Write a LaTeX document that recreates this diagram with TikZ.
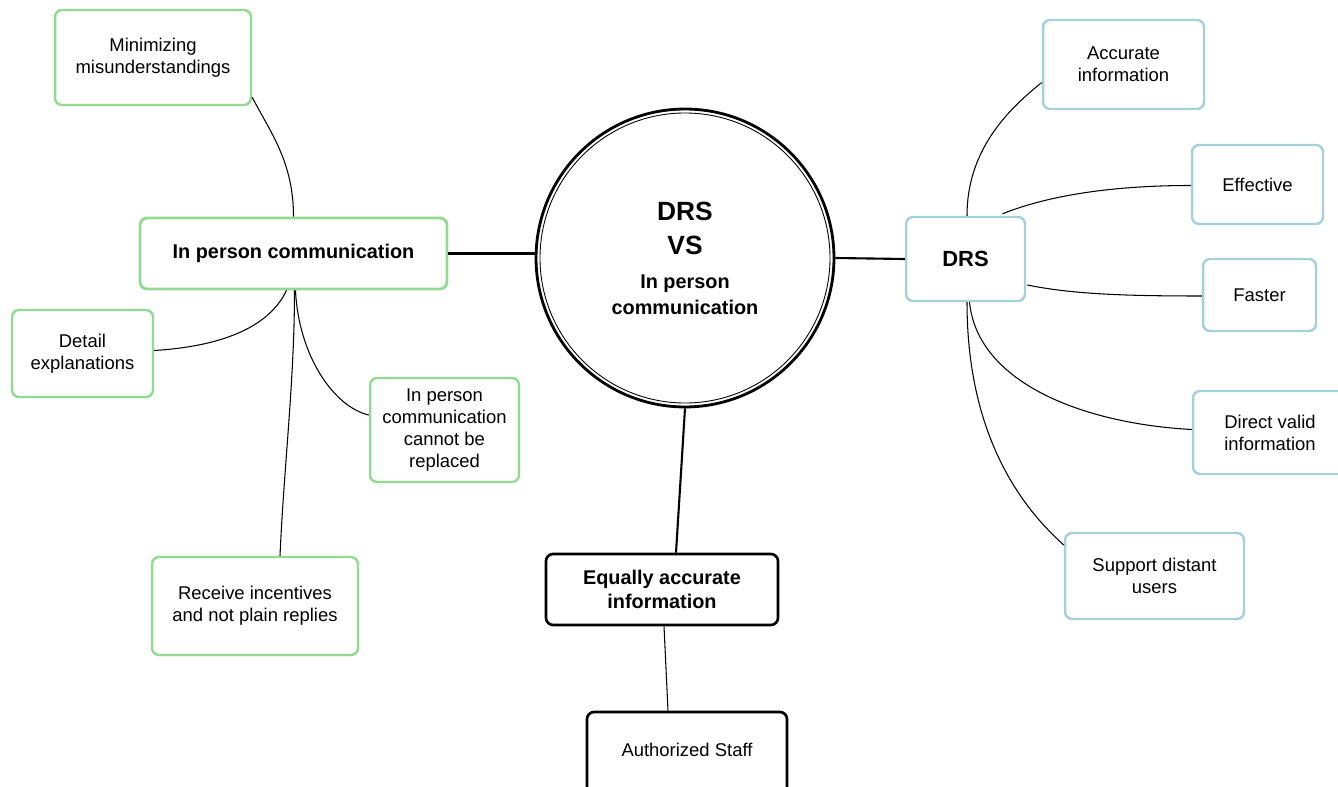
\documentclass[tikz,border=0pt]{standalone}
\usepackage{fontspec}
\setmainfont{Liberation Sans}
\usetikzlibrary{calc}
\definecolor{gb}{RGB}{146,218,146}
\definecolor{bb}{RGB}{165,208,218}
\begin{document}
\begin{tikzpicture}[x=0.02cm,y=-0.02cm,
  box/.style={rectangle, rounded corners=4pt, align=center, inner sep=2pt,
    font=\fontsize{10.5}{12.6}\selectfont},
  gbox/.style={box, draw=gb, line width=1.4pt},
  bbox/.style={box, draw=bb, line width=1.4pt},
  kbox/.style={box, draw=black, line width=1.5pt},
  bold/.style={font=\fontsize{11.3}{13.5}\selectfont\bfseries},
  link/.style={line width=0.6pt},
  trunk/.style={line width=1.2pt}]
\useasboundingbox (0,0) rectangle (1338,787);
\clip (0,0) rectangle (1338,787);

% central circle
\node[circle, draw, line width=1.6pt, minimum size=5.96cm, align=center, inner sep=0pt,
  font=\fontsize{15}{19.3}\selectfont\bfseries] (circ) at (685,258)
  {DRS\\ VS\\ {\fontsize{11.3}{13}\selectfont\bfseries In person}\\[-4.5pt] {\fontsize{11.3}{13}\selectfont\bfseries communication}};
\draw[line width=0.5pt] (circ.center) circle (145);

% left branch
\node[gbox, bold, line width=1.6pt, minimum width=6.14cm, minimum height=1.42cm] (inp) at (293.5,253.5) {In person communication};
\node[gbox, minimum width=3.92cm, minimum height=1.9cm] (mini) at (153,57.5) {Minimizing\\misunderstandings};
\node[gbox, minimum width=2.82cm, minimum height=1.74cm] (detail) at (82.5,353.5) {Detail\\explanations};
\node[gbox, minimum width=2.98cm, minimum height=2.08cm] (cannot) at (444.5,430) {In person\\communication\\cannot be\\replaced};
\node[gbox, minimum width=4.12cm, minimum height=1.96cm] (receive) at (255,606) {Receive incentives\\and not plain replies};

% bottom branch
\node[kbox, bold, minimum width=4.64cm, minimum height=1.42cm] (equal) at (662,589.5) {Equally accurate\\information};
\node[kbox, minimum width=4.0cm, minimum height=1.8cm] (auth) at (687,757) {\raisebox{8pt}{Authorized Staff}};

% right branch
\node[bbox, font=\fontsize{12.5}{15}\selectfont\bfseries, minimum width=2.38cm, minimum height=1.68cm] (drs) at (965.5,259) {DRS};
\node[bbox, minimum width=3.22cm, minimum height=1.78cm] (acc) at (1123.5,64.5) {Accurate\\information};
\node[bbox, minimum width=2.62cm, minimum height=1.58cm] (eff) at (1257.5,184.5) {Effective};
\node[bbox, minimum width=2.26cm, minimum height=1.44cm] (fast) at (1259.5,295) {Faster};
\node[bbox, minimum width=3.08cm, minimum height=1.66cm] (direct) at (1270,432.5) {Direct valid\\information};
\node[bbox, minimum width=3.58cm, minimum height=1.72cm] (support) at (1154.5,576) {Support distant\\users};

% trunks
\draw[trunk] (inp.east) -- (circ.west |- inp.east);
\draw[trunk] (circ.east) -- (drs.west);
\draw[trunk] (circ.south) -- ($(equal.north)+(14,0)$);
\draw[link] ($(equal.south)+(2,0)$) -- ($(auth.north)+(-19,0)$);

% left links
\draw[link] (inp.north) .. controls +(0,-55) and +(18,35) .. ($(mini.south east)+(0,-9)$);
\draw[link] ($(inp.south)+(-7,0)$) .. controls +(-18,38) and +(65,-4) .. ($(detail.east)+(0,-3)$);
\draw[link] ($(inp.south)+(2,0)$) .. controls +(3,65) and +(-35,-8) .. ($(cannot.west)+(0,-15)$);
\draw[link] ($(inp.south)+(1,0)$) .. controls +(0,90) and +(4,-90) .. ($(receive.north)+(25,0)$);

% right links
\draw[link] ($(drs.north)+(1.5,0)$) .. controls +(0,-65) and +(-35,28) .. ($(acc.west)+(0,18)$);
\draw[link] ($(drs.north)+(37,-2)$) .. controls +(45,-18) and +(-80,0) .. ($(eff.west)+(0,1)$);
\draw[link] ($(drs.east)+(1,26)$) .. controls +(45,9) and +(-80,0) .. ($(fast.west)+(0,1)$);
\draw[link] ($(drs.south)+(4,0)$) .. controls +(8,80) and +(-110,-6) .. ($(direct.west)+(0,-3)$);
\draw[link] ($(drs.south)+(1.5,0)$) .. controls +(0,130) and +(-45,-40) .. ($(support.west)+(0,-31)$);
\end{tikzpicture}
\end{document}
